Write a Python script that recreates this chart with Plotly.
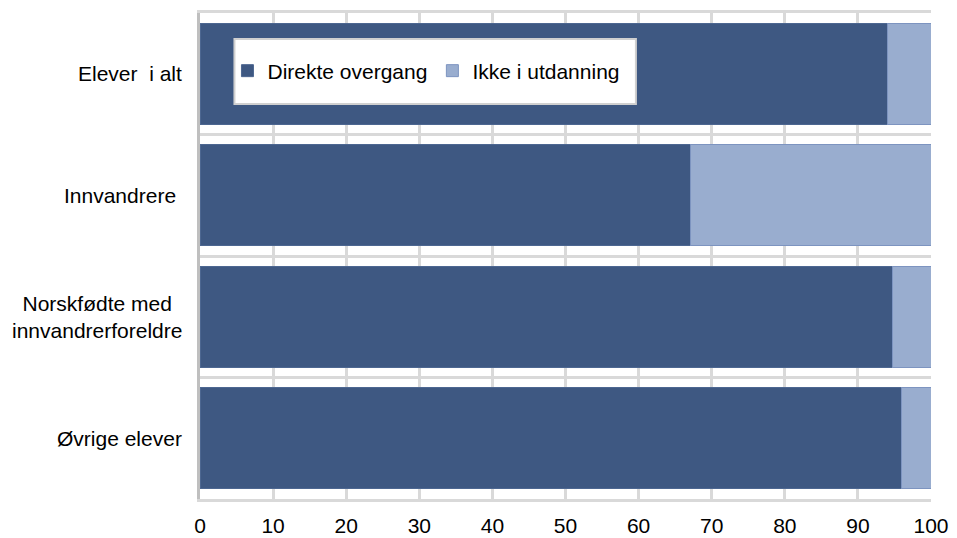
import plotly.graph_objects as go

categories = ["Elever  i alt", "Innvandrere ", "Norskfødte med<br>innvandrerforeldre", "Øvrige elever"]
direkte = [94.0, 67.1, 94.8, 95.9]
ikke = [6.0, 32.9, 5.2, 4.1]
series_names = ["Direkte overgang", "Ikke i utdanning"]
x_ticks = [0, 10, 20, 30, 40, 50, 60, 70, 80, 90, 100]

DARK = "#3e5882"
LIGHT = "#99adcf"
FONT = "Liberation Sans, Arial, sans-serif"
FS = 21

fig = go.Figure()
fig.add_trace(go.Bar(
    y=categories, x=direkte, name=series_names[0], orientation="h",
    marker=dict(color=DARK, line=dict(color="#4d6791", width=1)), width=0.83,
))
fig.add_trace(go.Bar(
    y=categories, x=ikke, name=series_names[1], orientation="h",
    marker=dict(color=LIGHT, line=dict(color="#7d94c0", width=1)), width=0.83,
))

W, H = 957, 538
L, R, T, B = 199.5, 25.5, 13, 39
pw, ph = W - L - R, H - T - B

def px(x):
    return (x - L) / pw

def py(y):
    return 1 - (y - T) / ph

fig.update_layout(
    width=W, height=H,
    barmode="stack",
    paper_bgcolor="white", plot_bgcolor="white",
    margin=dict(l=L, r=R, t=T, b=B, pad=0),
    font=dict(family=FONT, size=FS, color="#000000"),
    showlegend=True,
    legend=dict(
        orientation="h", x=px(227), xanchor="left", y=py(71), yanchor="middle",
        bgcolor="rgba(0,0,0,0)", borderwidth=0,
        font=dict(family=FONT, size=FS, color="#000000"),
        traceorder="normal",
    ),
    xaxis=dict(
        range=[0, 100], tickvals=x_ticks, ticktext=[str(v) for v in x_ticks],
        showgrid=True, gridcolor="#d9d9d9", gridwidth=3,
        zeroline=False, showline=True, linecolor="#d9d9d9", linewidth=3, mirror=True,
        ticks="outside", ticklen=6, tickcolor="rgba(0,0,0,0)",
        tickfont=dict(family=FONT, size=FS, color="#000000"),
        fixedrange=True, automargin=False,
    ),
    yaxis=dict(
        type="category", categoryorder="array", categoryarray=categories[::-1],
        tickson="boundaries", showgrid=True, gridcolor="#d9d9d9", gridwidth=3,
        showticklabels=False, ticks="",
        showline=True, linecolor="#bfbfbf", linewidth=3,
        zeroline=False, fixedrange=True, automargin=False,
    ),
    shapes=[dict(
        type="rect", xref="paper", yref="paper",
        x0=px(234), x1=px(636), y0=py(104), y1=py(39),
        fillcolor="white", line=dict(color="#d0d0d0", width=2), layer="above",
    )],
)

for cat in categories:
    label = cat.replace(" ", "\u00a0")
    fig.add_annotation(
        xref="paper", yref="y", x=0, y=cat, xanchor="right", yanchor="middle",
        xshift=-16, text=label,
        showarrow=False, align="center",
        font=dict(family=FONT, size=FS, color="#000000"),
    )

fig.write_html(
    "out.html",
    config={"displayModeBar": False},
    post_script="document.body.style.margin='0';document.body.style.padding='0';",
)
